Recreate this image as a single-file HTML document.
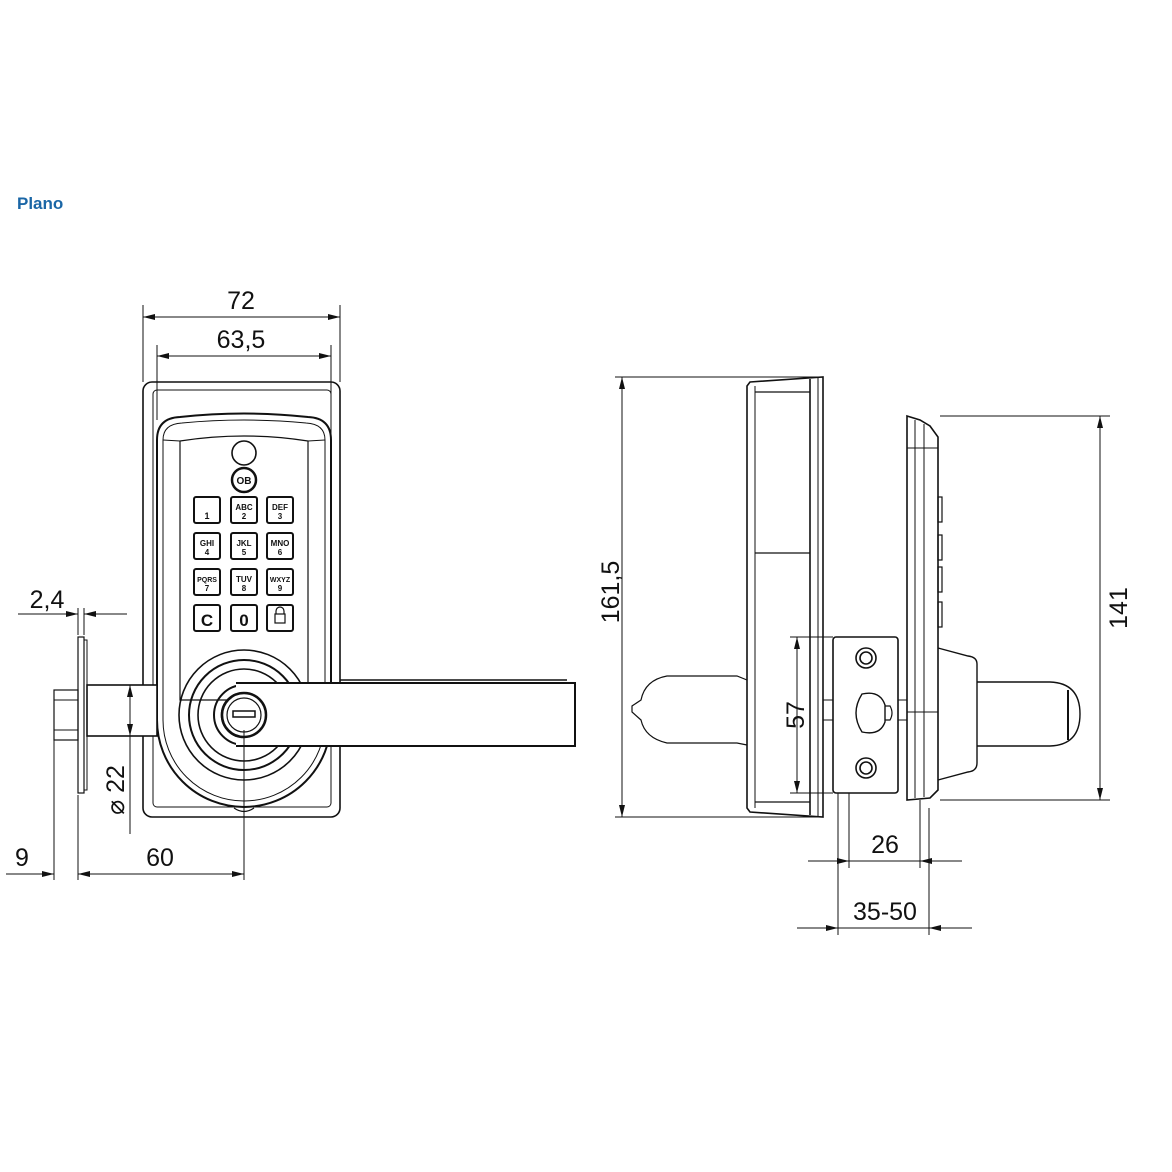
<!DOCTYPE html>
<html><head><meta charset="utf-8"><style>
html,body{margin:0;padding:0;background:#fff;}
svg{display:block;}
text{font-family:"Liberation Sans",sans-serif;}
</style></head><body>
<svg width="1172" height="1172" viewBox="0 0 1172 1172" xmlns="http://www.w3.org/2000/svg">
<defs>
<marker id="a" viewBox="0 0 12 6" refX="12" refY="3" markerWidth="12" markerHeight="6" orient="auto-start-reverse" markerUnits="userSpaceOnUse"><path d="M0,0 L12,3 L0,6 z" fill="#111"/></marker>
</defs>
<text x="17" y="209" font-size="17" font-weight="bold" fill="#1a66a6">Plano</text>

<g stroke="#111" fill="none" stroke-width="1">
<!-- dims top -->
<line x1="143" y1="305" x2="143" y2="382"/><line x1="340" y1="305" x2="340" y2="382"/>
<line x1="143" y1="317" x2="340" y2="317" marker-start="url(#a)" marker-end="url(#a)"/>
<line x1="157" y1="345" x2="157" y2="420"/><line x1="331" y1="345" x2="331" y2="420"/>
<line x1="157" y1="356" x2="331" y2="356" marker-start="url(#a)" marker-end="url(#a)"/>
</g>
<g font-size="25" fill="#111" text-anchor="middle">
<text x="241" y="309">72</text>
<text x="241" y="348">63,5</text>
</g>

<!-- front view -->
<g stroke="#111" fill="none" stroke-width="1.6">
<rect x="143" y="382" width="197" height="435" rx="9"/>
<rect x="153" y="390" width="178" height="417" rx="4" stroke-width="1"/>
<path d="M157,440 Q157,418 180,417 Q244,410 308,417 Q331,418 331,440 L331,720 A87,87 0 0 1 157,720 Z" stroke-width="2"/>
<path d="M163,440 Q163,424 182,423 Q244,417 306,423 Q325,424 325,440 L325,720 A81,81 0 0 1 163,720 Z" stroke-width="1"/>
<path d="M180,441 Q244,431 308,441 L308,700 L180,700 Z" stroke-width="1.2"/>
<line x1="163" y1="440" x2="180" y2="441" stroke-width="1"/><line x1="325" y1="440" x2="308" y2="441" stroke-width="1"/>
<circle cx="244" cy="453" r="12"/>
<circle cx="244" cy="480" r="12" stroke-width="2.5"/>
<circle cx="244" cy="715" r="65"/>
<circle cx="244" cy="715" r="55" stroke-width="2"/>
<circle cx="244" cy="715" r="46"/>
<circle cx="244" cy="715" r="30" stroke-width="2"/>
<circle cx="244" cy="715" r="22" stroke-width="2.5"/>
<path d="M234,808 Q244,815 254,808" stroke-width="1.2"/>
<!-- lever -->
<line x1="340" y1="680" x2="567" y2="680"/>
<path d="M236,683 L575,683 L575,746 L236,746" stroke-width="2" fill="#fff"/>
<circle cx="244" cy="715" r="22" stroke-width="2.5" fill="#fff"/>
<circle cx="244" cy="715" r="17" stroke-width="1.2"/>
<rect x="233" y="711" width="22" height="6" stroke-width="1.5"/>
<!-- keys -->
<g stroke-width="2">
<rect x="194" y="497" width="26" height="26" rx="2"/><rect x="231" y="497" width="26" height="26" rx="2"/><rect x="267" y="497" width="26" height="26" rx="2"/>
<rect x="194" y="533" width="26" height="26" rx="2"/><rect x="231" y="533" width="26" height="26" rx="2"/><rect x="267" y="533" width="26" height="26" rx="2"/>
<rect x="194" y="569" width="26" height="26" rx="2"/><rect x="231" y="569" width="26" height="26" rx="2"/><rect x="267" y="569" width="26" height="26" rx="2"/>
<rect x="194" y="605" width="26" height="26" rx="2"/><rect x="231" y="605" width="26" height="26" rx="2"/><rect x="267" y="605" width="26" height="26" rx="2"/>
</g>
<rect x="275" y="614" width="10" height="9" stroke-width="1.2"/><path d="M276,614 v-3 a4,4 0 0 1 8,0 v3" stroke-width="1.2"/>
<!-- spindle side -->
<rect x="87" y="685" width="70" height="51" fill="#fff"/>
<rect x="78" y="637" width="6" height="156" stroke-width="1.2"/>
<rect x="84" y="640" width="3" height="150" stroke-width="1"/>
<rect x="54" y="690" width="24" height="50" stroke-width="1.2"/>
<line x1="54" y1="700" x2="78" y2="700" stroke-width="1"/><line x1="54" y1="730" x2="78" y2="730" stroke-width="1"/>
</g>
<g font-weight="bold" fill="#111" text-anchor="middle" font-size="8">
<text x="207" y="519" font-size="9">1</text>
<text x="244" y="510">ABC</text><text x="244" y="519">2</text>
<text x="280" y="510">DEF</text><text x="280" y="519">3</text>
<text x="207" y="546">GHI</text><text x="207" y="555">4</text>
<text x="244" y="546">JKL</text><text x="244" y="555">5</text>
<text x="280" y="546">MNO</text><text x="280" y="555">6</text>
<text x="207" y="582" font-size="7">PQRS</text><text x="207" y="591">7</text>
<text x="244" y="582">TUV</text><text x="244" y="591">8</text>
<text x="280" y="582" font-size="7">WXYZ</text><text x="280" y="591">9</text>
<text x="207" y="626" font-size="17">C</text>
<text x="244" y="626" font-size="17">0</text>
<text x="244" y="484" font-size="10">OB</text>
</g>
<!-- left dims -->
<g stroke="#111" fill="none" stroke-width="1">
<line x1="78" y1="608" x2="78" y2="635"/><line x1="84" y1="608" x2="84" y2="635"/>
<line x1="18" y1="614" x2="78" y2="614" marker-end="url(#a)"/>
<line x1="127" y1="614" x2="84" y2="614" marker-end="url(#a)"/>
<line x1="54" y1="740" x2="54" y2="880"/><line x1="78" y1="795" x2="78" y2="880"/><line x1="244" y1="730" x2="244" y2="880"/>
<line x1="6" y1="874" x2="54" y2="874" marker-end="url(#a)"/>
<line x1="78" y1="874" x2="244" y2="874" marker-start="url(#a)" marker-end="url(#a)"/>
<line x1="130" y1="685" x2="130" y2="736" marker-start="url(#a)" marker-end="url(#a)"/>
<line x1="130" y1="736" x2="130" y2="834"/>
</g>
<g font-size="25" fill="#111" text-anchor="middle">
<text x="47" y="608">2,4</text>
<text x="22" y="866">9</text>
<text x="160" y="866">60</text>
<text transform="translate(124,790) rotate(-90)">⌀ 22</text>
</g>

<!-- side view -->
<g stroke="#111" fill="none" stroke-width="1.6">
<line x1="615" y1="377" x2="822" y2="377" stroke-width="1"/>
<line x1="615" y1="817" x2="822" y2="817" stroke-width="1"/>
<line x1="622" y1="377" x2="622" y2="817" stroke-width="1" marker-start="url(#a)" marker-end="url(#a)"/>
<path d="M750,382 L823,377 L823,817 L750,812 L747,808 L747,386 Z"/>
<line x1="755" y1="386" x2="755" y2="808" stroke-width="1"/>
<line x1="810" y1="379" x2="810" y2="815"/>
<line x1="818" y1="378" x2="818" y2="816" stroke-width="1"/>
<path d="M755,392 L810,392 M755,802 L810,802 M755,553 L810,553" stroke-width="1.2"/>
<path d="M747,680 L737,676 L667,676 Q645,680 641,700 L632,706 L632,712 L641,720 Q645,738 667,743 L737,743 L747,745" stroke-width="1.2"/>
<rect x="823" y="700" width="10" height="20" stroke-width="1"/>
<rect x="833" y="637" width="65" height="156" rx="3"/>
<circle cx="866" cy="658" r="10"/><circle cx="866" cy="658" r="6"/>
<circle cx="866" cy="768" r="10"/><circle cx="866" cy="768" r="6"/>
<path d="M862,694 Q880,690 885,705 L885,722 Q880,736 862,732 Q850,713 862,694 Z" stroke-width="1.4"/>
<path d="M885,706 L890,706 Q894,713 890,720 L885,720" stroke-width="1.2"/>
<rect x="898" y="700" width="9" height="20" stroke-width="1"/>
<line x1="797" y1="637" x2="797" y2="793" stroke-width="1" marker-start="url(#a)" marker-end="url(#a)"/>
<line x1="790" y1="637" x2="833" y2="637" stroke-width="1"/><line x1="790" y1="793" x2="833" y2="793" stroke-width="1"/>
<path d="M907,416 L920,420 L930,426 L938,437 L938,790 L930,798 L907,800 Z"/>
<line x1="915" y1="420" x2="915" y2="798" stroke-width="1"/>
<line x1="924" y1="424" x2="924" y2="797" stroke-width="1"/>
<line x1="907" y1="448" x2="938" y2="448" stroke-width="1"/>
<line x1="907" y1="712" x2="938" y2="712" stroke-width="1"/>
<rect x="938" y="497" width="4" height="25" stroke-width="1.2"/>
<rect x="938" y="535" width="4" height="25" stroke-width="1.2"/>
<rect x="938" y="567" width="4" height="25" stroke-width="1.2"/>
<rect x="938" y="602" width="4" height="25" stroke-width="1.2"/>
<path d="M938,648 L968,656 Q977,657 977,664 L977,763 Q977,771 968,772 L938,780" stroke-width="1.4"/>
<path d="M977,682 L1050,682 Q1080,683 1080,714 Q1080,745 1050,746 L977,746" stroke-width="1.4"/>
<path d="M1068,690 L1068,740" stroke-width="2"/>
<line x1="940" y1="416" x2="1110" y2="416" stroke-width="1"/>
<line x1="940" y1="800" x2="1110" y2="800" stroke-width="1"/>
<line x1="1100" y1="416" x2="1100" y2="800" stroke-width="1" marker-start="url(#a)" marker-end="url(#a)"/>
<!-- bottom dims -->
<line x1="849" y1="793" x2="849" y2="868" stroke-width="1"/>
<line x1="920" y1="800" x2="920" y2="868" stroke-width="1"/>
<line x1="838" y1="793" x2="838" y2="935" stroke-width="1"/>
<line x1="929" y1="808" x2="929" y2="935" stroke-width="1"/>
<line x1="808" y1="861" x2="849" y2="861" stroke-width="1" marker-end="url(#a)"/>
<line x1="849" y1="861" x2="920" y2="861" stroke-width="1"/>
<line x1="962" y1="861" x2="920" y2="861" stroke-width="1" marker-end="url(#a)"/>
<line x1="797" y1="928" x2="838" y2="928" stroke-width="1" marker-end="url(#a)"/>
<line x1="838" y1="928" x2="929" y2="928" stroke-width="1"/>
<line x1="972" y1="928" x2="929" y2="928" stroke-width="1" marker-end="url(#a)"/>
</g>
<g font-size="25" fill="#111" text-anchor="middle">
<text transform="translate(619,592) rotate(-90)">161,5</text>
<text transform="translate(804,715) rotate(-90)">57</text>
<text transform="translate(1127,608) rotate(-90)">141</text>
<text x="885" y="853">26</text>
<text x="885" y="920">35-50</text>
</g>
</svg>
</body></html>
